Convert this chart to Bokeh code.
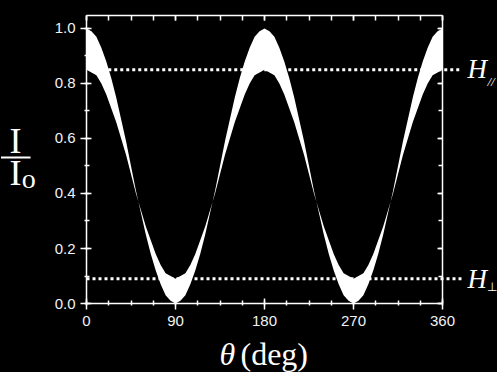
from bokeh.plotting import figure
from bokeh.models import (LinearAxis, Arrow, Range1d,
                          SingleIntervalTicker, PrintfTickFormatter)
from bokeh.core.properties import value
from bokeh.embed import file_html
from bokeh.resources import INLINE

# ---- data ----
theta = list(range(0, 365, 5))  # deg

outer = [1.00, 0.99, 0.97, 0.93, 0.88, 0.82, 0.75, 0.67, 0.59, 0.50, 0.41, 0.33, 0.25, 0.18, 0.12, 0.07, 0.03, 0.01, 0.00,
         0.01, 0.03, 0.07, 0.12, 0.18, 0.25, 0.33, 0.41, 0.50, 0.59, 0.67, 0.75, 0.82, 0.88, 0.93, 0.97, 0.99, 1.00,
         0.99, 0.97, 0.93, 0.88, 0.82, 0.75, 0.67, 0.59, 0.50, 0.41, 0.33, 0.25, 0.18, 0.12, 0.07, 0.03, 0.01, 0.00,
         0.01, 0.03, 0.07, 0.12, 0.18, 0.25, 0.33, 0.41, 0.50, 0.59, 0.67, 0.75, 0.82, 0.88, 0.93, 0.97, 0.99, 1.00]

inner = [0.85, 0.84, 0.83, 0.80, 0.76, 0.71, 0.66, 0.60, 0.54, 0.47, 0.40, 0.34, 0.28, 0.23, 0.18, 0.14, 0.11, 0.10, 0.09,
         0.10, 0.11, 0.14, 0.18, 0.23, 0.28, 0.34, 0.40, 0.47, 0.54, 0.60, 0.66, 0.71, 0.76, 0.80, 0.83, 0.84, 0.85,
         0.84, 0.83, 0.80, 0.76, 0.71, 0.66, 0.60, 0.54, 0.47, 0.40, 0.34, 0.28, 0.23, 0.18, 0.14, 0.11, 0.10, 0.09,
         0.10, 0.11, 0.14, 0.18, 0.23, 0.28, 0.34, 0.40, 0.47, 0.54, 0.60, 0.66, 0.71, 0.76, 0.80, 0.83, 0.84, 0.85]

h_par = 0.85    # H_parallel level
h_perp = 0.09   # H_perp level

x_min, x_max = 0, 360
y_min, y_max = 0.0, 1.047
x_tick_step = 90
y_tick_step = 0.2

FG = "white"
serif = "Liberation Serif"

# frame covers the whole canvas; axes are placed at fixed data locations
p = figure(width=497, height=372, output_backend="svg", toolbar_location=None,
           x_range=Range1d(-86.97, 415.6), y_range=Range1d(-0.2509, 1.1018),
           x_axis_location=None, y_axis_location=None,
           min_border=0, min_border_left=0, min_border_right=0,
           min_border_top=0, min_border_bottom=0,
           background_fill_color="black", border_fill_color="black",
           outline_line_color=None)
p.grid.visible = False

# band between the two curves
p.varea(x=theta, y1=outer, y2=inner, fill_color=FG, fill_alpha=1.0)


def make_axis(ticker, loc, bounds, labels=True, tin=5, tout=6, mtin=3, mtout=2):
    ax = LinearAxis(ticker=ticker, fixed_location=loc, bounds=bounds)
    ax.axis_line_color = FG
    ax.axis_line_width = 1.5
    ax.major_tick_line_color = FG
    ax.minor_tick_line_color = FG
    ax.major_tick_line_width = 1.5
    ax.minor_tick_line_width = 1.5
    ax.major_tick_in = tin
    ax.major_tick_out = tout
    ax.minor_tick_in = mtin
    ax.minor_tick_out = mtout
    ax.major_label_text_font = "Liberation Sans"
    ax.major_label_text_font_size = "15px"
    ax.major_label_text_color = "#f2f2f2" if labels else None
    return ax


bottom = make_axis(SingleIntervalTicker(interval=x_tick_step, num_minor_ticks=4), y_min, (x_min, x_max))
bottom.major_label_standoff = 6
p.add_layout(bottom, "below")

left = make_axis(SingleIntervalTicker(interval=y_tick_step, num_minor_ticks=2), x_min, (y_min, y_max))
left.formatter = PrintfTickFormatter(format="%.1f")
left.major_label_standoff = 5
p.add_layout(left, "left")

top = make_axis(SingleIntervalTicker(interval=x_tick_step, num_minor_ticks=4), y_max, (x_min, x_max),
                labels=False, tin=5, tout=0, mtin=5, mtout=0)
p.add_layout(top, "above")

right = make_axis(SingleIntervalTicker(interval=y_tick_step, num_minor_ticks=2), x_max, (y_min, y_max),
                  labels=False, tin=5, tout=0, mtin=4, mtout=0)
p.add_layout(right, "right")

# dotted reference lines (extend a little past the right axis)
p.add_layout(Arrow(end=None, x_start=22, y_start=h_par, x_end=380, y_end=h_par,
                   line_color=FG, line_width=3, line_dash="3 3"))
p.add_layout(Arrow(end=None, x_start=0, y_start=h_perp, x_end=380, y_end=h_perp,
                   line_color=FG, line_width=3, line_dash="3 3"))


def txt(x, y, s, size, font=serif, style="normal", align="left"):
    p.text(x=[x], y=[y], text=[s], text_font=value(font), text_font_style=style,
           text_font_size=size, text_color=FG, text_align=align, text_baseline="middle")


# H labels
txt(385.3, 0.851, "H", "27px", style="italic")
txt(405.5, 0.809, "//", "13px", style="italic")
txt(385.3, 0.088, "H", "27px", style="italic")
txt(405.0, 0.059, "\u22a5", "12px", font="DejaVu Sans")

# y axis label  I / I_o
txt(-71.8, 0.590, "I", "36px", align="center")
p.add_layout(Arrow(end=None, x_start=-86.5, y_start=0.531, x_end=-56.6, y_end=0.531,
                   line_color=FG, line_width=2))
txt(-71.8, 0.473, "I", "36px", align="center")
txt(-65.5, 0.456, "o", "28px")

# x axis label  θ (deg)
txt(134.5, -0.1825, "\u03b8", "32px", style="italic")
txt(155.7, -0.1825, "(deg)", "32px")

html = file_html(p, INLINE)
html = html.replace("<head>", "<head><style>html,body{background:#000000;}</style>", 1)
open("out.html", "w").write(html)
